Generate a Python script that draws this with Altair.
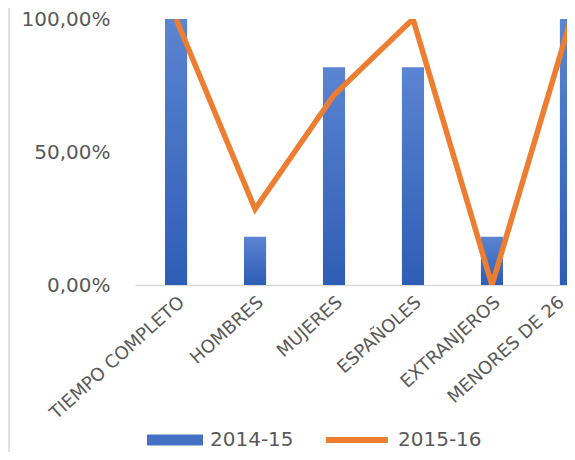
import altair as alt
import pandas as pd

categories = ["TIEMPO COMPLETO", "HOMBRES", "MUJERES", "ESPAÑOLES", "EXTRANJEROS", "MENORES DE 26"]
values_2014_15 = [1.0, 0.1818, 0.8182, 0.8182, 0.1818, 1.0]
values_2015_16 = [1.0, 0.2857, 0.7143, 1.0, 0.0, 1.0]
series_names = ["2014-15", "2015-16"]
series_colors = ["#4472C4", "#ED7D31"]
y_ticks = [0, 0.5, 1]

df_bar = pd.DataFrame({"cat": categories, "value": values_2014_15, "series": series_names[0]})
df_line = pd.DataFrame({"cat": categories, "value": values_2015_16, "series": series_names[1]})
df_border = pd.DataFrame({"k": [0]})

TXT = "#595959"
FONT = "DejaVu Sans"

x_scale = alt.Scale(domain=categories, range=[0, 477], paddingInner=0.72, paddingOuter=0.38)
y_scale = alt.Scale(domain=[0, 1], nice=False)

x_axis = alt.Axis(title=None, labelAngle=-42, labelFontSize=18, labelColor=TXT, labelFont=FONT,
                  ticks=False, domainColor="#d9d9d9", domainWidth=1.3, labelPadding=8,
                  labelOffset=alt.condition(f"datum.value == '{categories[-1]}'", alt.value(-15), alt.value(0)),
                  labelOverlap=False, labelLimit=0, labelBound=False)
y_axis = alt.Axis(title=None, values=y_ticks, grid=False, domain=False, ticks=False,
                  labelExpr="replace(format(datum.value, '.2%'), '.', ',')",
                  labelFontSize=20, labelColor=TXT, labelFont=FONT, labelPadding=25)

grad = alt.Gradient(
    gradient="linear",
    stops=[alt.GradientStop(color="#5b84d1", offset=0), alt.GradientStop(color="#2e5db5", offset=1)],
    x1=0, x2=0, y1=0, y2=1,
)

bar_color = {
    "condition": {
        "test": "datum.series == 'ninguno'",
        "field": "series",
        "type": "nominal",
        "scale": {"domain": [series_names[0]], "range": [series_colors[0]]},
        "legend": {
            "title": None, "orient": "none", "legendX": 12, "legendY": 393,
            "symbolType": "M-1,-0.2H1V0.2H-1Z", "symbolSize": 3136, "symbolStrokeWidth": 0,
            "labelFontSize": 20, "labelColor": TXT, "labelFont": FONT, "labelOffset": 7,
        },
    },
    "value": grad.to_dict(),
}

bars = alt.Chart(df_bar).mark_bar().encode(
    x=alt.X("cat:N", scale=x_scale, sort=categories, axis=x_axis),
    y=alt.Y("value:Q", scale=y_scale, axis=y_axis),
    color=bar_color,
)

line = alt.Chart(df_line).mark_line(strokeWidth=5.5, clip=True, strokeJoin="miter").encode(
    x=alt.X("cat:N", scale=x_scale, sort=categories, axis=x_axis),
    y=alt.Y("value:Q", scale=y_scale, axis=y_axis),
    color=alt.Color("series:N", scale=alt.Scale(domain=[series_names[1]], range=[series_colors[1]]),
                    legend=alt.Legend(title=None, orient="none", legendX=188, legendY=387,
                                      symbolType="stroke", symbolSize=3844, symbolStrokeWidth=6,
                                      labelFontSize=20, labelColor=TXT, labelFont=FONT, labelOffset=7)),
)

border = alt.Chart(df_border).mark_rule(color="#d9d9d9", strokeWidth=1.5).encode(
    x=alt.value(-126), y=alt.value(-11), y2=alt.value(433)
)

chart = alt.layer(border, bars, line).resolve_scale(color="independent").resolve_legend(
    color="independent"
).properties(
    width=432, height=266,
    autosize=alt.AutoSizeParams(type="none"),
    padding={"left": 127, "top": 11, "right": 0, "bottom": 167},
    background="white",
).configure_view(stroke=None)

chart.save("out.html", embed_options={"renderer": "svg", "actions": False})
